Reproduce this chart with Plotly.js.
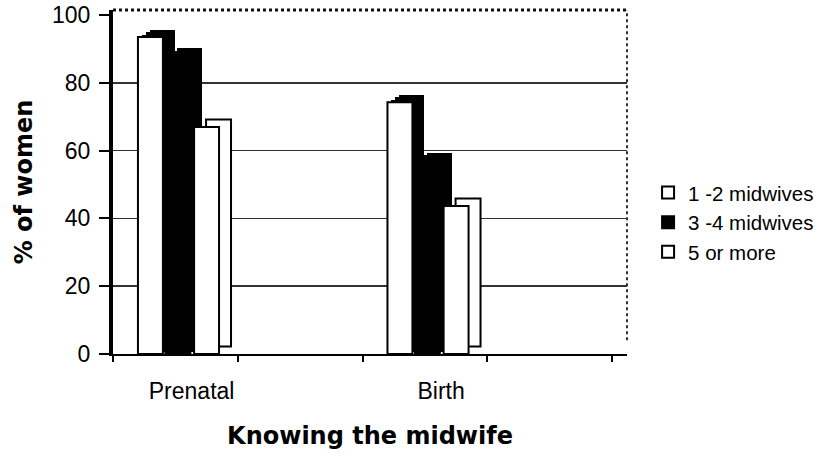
<!DOCTYPE html>
<html>
<head>
<meta charset="utf-8">
<script src="https://cdn.plot.ly/plotly-3.0.1.min.js"></script>
<style>
  html, body { margin: 0; padding: 0; background: #ffffff; }
  #chart { width: 822px; height: 456px; }
</style>
</head>
<body>
<div id="chart"></div>
<script>
// ---- data ----
const categories = ['Prenatal', 'Birth'];
const seriesNames = ['1 -2 midwives', '3 -4 midwives', '5 or more'];
const oneToTwo = [93.5, 74.3];
const threeToFour = [88.0, 57.2];
const fiveOrMore = [67.0, 43.7];
const yTickVals = [0, 20, 40, 60, 80, 100];
const gridVals = [20, 40, 60, 80];
const xTickVals = [0, 1, 2, 3, 4];

// ---- layout constants (not data) ----
const catPos = [0.52, 2.52];
const seriesOffset = [-0.22, 0, 0.23];
const barWidth = 0.2;
const depthX = 0.096, depthY = 2.2, depthSteps = 3;
const labelShift = 0.11;
const FONT = 'Liberation Sans, Arial, sans-serif';
const BOLD = 'DejaVu Sans, Verdana, sans-serif';

function xsFor(i) { return catPos.map(p => p + seriesOffset[i]); }

function depthTraces(vals, i, fill, lineW, stepsList) {
  return stepsList.map(k => ({
    type: 'bar',
    x: xsFor(i).map(x => x + depthX * k / depthSteps),
    y: vals,
    base: vals.map(() => depthY * k / depthSteps),
    width: barWidth,
    marker: { color: fill, line: { color: '#000000', width: lineW } },
    showlegend: false,
    hoverinfo: 'skip'
  }));
}

function frontTrace(vals, i, fill, rank) {
  return {
    type: 'bar',
    name: seriesNames[i],
    x: xsFor(i),
    y: vals,
    width: barWidth,
    marker: { color: fill, line: { color: '#000000', width: 2 } },
    legendrank: rank
  };
}

const data = [].concat(
  depthTraces(threeToFour, 1, '#000000', 0, [3, 2, 1]),
  [frontTrace(threeToFour, 1, '#000000', 2)],
  depthTraces(oneToTwo, 0, '#000000', 0, [3, 2, 1]),
  [frontTrace(oneToTwo, 0, '#ffffff', 1)],
  depthTraces(fiveOrMore, 2, '#ffffff', 2, [3]),
  [frontTrace(fiveOrMore, 2, '#ffffff', 3)],
  [
    { type: 'scatter', x: [null], y: [null], xaxis: 'x2', yaxis: 'y', showlegend: false, hoverinfo: 'skip' },
    { type: 'scatter', x: [null], y: [null], xaxis: 'x', yaxis: 'y2', showlegend: false, hoverinfo: 'skip' }
  ]
);

const xRange = [0, 4.12];
const yRange = [0, 101.5];

const layout = {
  width: 822,
  height: 456,
  margin: { l: 113, r: 195, t: 10, b: 102, autoexpand: false },
  paper_bgcolor: '#ffffff',
  plot_bgcolor: '#ffffff',
  barmode: 'overlay',
  bargap: 0,
  showlegend: true,
  font: { family: FONT, color: '#000000' },
  xaxis: {
    range: xRange,
    tickvals: xTickVals,
    showticklabels: false,
    ticks: 'outside', ticklen: 6, tickwidth: 2, tickcolor: '#000000',
    showline: true, linecolor: '#000000', linewidth: 2,
    showgrid: false, zeroline: false, fixedrange: true
  },
  xaxis2: {
    overlaying: 'x', anchor: 'y', side: 'bottom',
    range: xRange,
    tickvals: catPos.map(p => p + labelShift),
    ticktext: categories,
    ticks: 'outside', ticklen: 16, tickcolor: 'rgba(0,0,0,0)',
    tickfont: { family: FONT, size: 23, color: '#000000' },
    showline: false, showgrid: false, zeroline: false,
    title: { text: 'Knowing the midwife', font: { family: BOLD, size: 24, weight: 'bold', color: '#000000' }, standoff: 24 }
  },
  yaxis: {
    range: yRange,
    tickvals: yTickVals,
    ticks: 'outside', ticklen: 10, tickwidth: 2, tickcolor: '#000000',
    ticklabelstandoff: 4,
    tickfont: { family: FONT, size: 23, color: '#000000' },
    showline: true, linecolor: '#000000', linewidth: 4,
    showgrid: false, zeroline: false,
    title: { text: '% of women', font: { family: BOLD, size: 24, weight: 'bold', color: '#000000' }, standoff: 14 }
  },
  yaxis2: {
    overlaying: 'y', anchor: 'x', side: 'left',
    range: yRange,
    tickvals: gridVals,
    showticklabels: false, ticks: '',
    showgrid: true, gridcolor: '#333333', gridwidth: 1.5,
    showline: false, zeroline: false
  },
  legend: {
    x: 1.041, xanchor: 'left',
    y: 0.527, yanchor: 'top',
    font: { family: FONT, size: 20.5, color: '#000000' },
    bgcolor: 'rgba(0,0,0,0)',
    traceorder: 'normal',
    itemclick: false, itemdoubleclick: false
  },
  shapes: [
    { type: 'line', xref: 'paper', yref: 'paper', x0: 0, x1: 1, y0: 1, y1: 1,
      line: { color: '#111111', width: 3, dash: 'dot' } },
    { type: 'line', xref: 'paper', yref: 'paper', x0: 1, x1: 1, y0: 0.04, y1: 1,
      line: { color: '#333333', width: 2, dash: 'dot' } }
  ]
};

Plotly.newPlot('chart', data, layout, { displayModeBar: false, staticPlot: true });
</script>
</body>
</html>
